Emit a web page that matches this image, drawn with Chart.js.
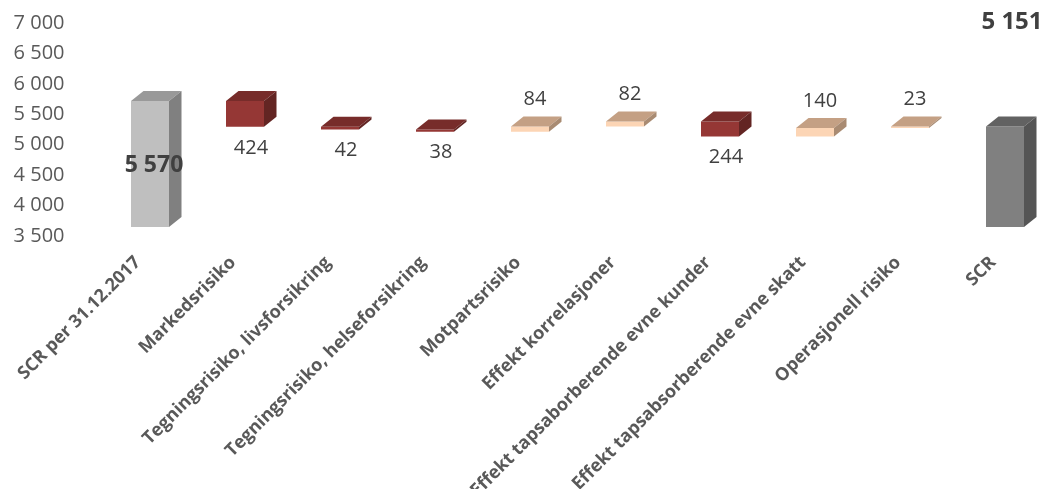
<!DOCTYPE html>
<html><head><meta charset="utf-8">
<script src="https://cdn.jsdelivr.net/npm/chart.js@4"></script>
<style>
html,body{margin:0;padding:0;background:#fff;overflow:hidden;width:1048px;height:489px}
#wrap{position:absolute;left:0;top:0;width:1060px;height:489px}
</style>
</head><body><div id="wrap"><canvas id="c" width="1060" height="489"></canvas></div>
<script>
// ---- data ----
const categories = ['SCR per 31.12.2017','Markedsrisiko','Tegningsrisiko, livsforsikring','Tegningsrisiko, helseforsikring','Motpartsrisiko','Effekt korrelasjoner','Effekt tapsaborberende evne kunder','Effekt tapsabsorberende evne skatt','Operasjonell risiko','SCR'];
const startValue = 5570;
const changes = [-424, -42, -38, 84, 82, -244, 140, 23];
const endValue = 5151;
const yTicks = [3500, 4000, 4500, 5000, 5500, 6000, 6500, 7000];

// ---- build waterfall ranges ----
const ranges = [], kinds = [], labels = [];
ranges.push([yTicks[0], startValue]); kinds.push('start'); labels.push(startValue);
let run = startValue;
changes.forEach(d => { ranges.push([run, run + d]); kinds.push(d < 0 ? 'down' : 'up'); labels.push(Math.abs(d)); run += d; });
ranges.push([yTicks[0], endValue]); kinds.push('end'); labels.push(endValue);

const fmt = n => String(n).replace(/\B(?=(\d{3})+(?!\d))/g, ' ');

const palette = {
  start: {front:'#BFBFBF', top:'#999999', side:'#808080'},
  down:  {front:'#953735', top:'#772C2A', side:'#632523'},
  up:    {front:'#FCD5B5', top:'#C4A084', side:'#A98B72'},
  end:   {front:'#808080', top:'#626262', side:'#555555'}
};

const DX = 12.5, DY = 10;
const FONT = "'Open Sans', sans-serif";

const threeD = {
  id: 'threeD',
  afterDatasetsDraw(chart) {
    const ctx = chart.ctx;
    const meta = chart.getDatasetMeta(0);
    const yScale = chart.scales.y;
    meta.data.forEach((bar, i) => {
      const p = bar.getProps(['x','y','base','width'], true);
      const l = p.x - p.width/2, r = p.x + p.width/2;
      const t = Math.min(p.y, p.base), b = Math.max(p.y, p.base);
      const c = palette[kinds[i]];
      ctx.save();
      ctx.fillStyle = c.top;
      ctx.beginPath();
      ctx.moveTo(l, t); ctx.lineTo(r, t); ctx.lineTo(r + DX, t - DY); ctx.lineTo(l + DX, t - DY); ctx.closePath(); ctx.fill();
      ctx.fillStyle = c.side;
      ctx.beginPath();
      ctx.moveTo(r, t); ctx.lineTo(r + DX, t - DY); ctx.lineTo(r + DX, b - DY); ctx.lineTo(r, b); ctx.closePath(); ctx.fill();
      ctx.restore();
    });
    ctx.save();
    ctx.textAlign = 'center';
    ctx.textBaseline = 'middle';
    ctx.fillStyle = '#404040';
    meta.data.forEach((bar, i) => {
      const p = bar.getProps(['x','y','base','width'], true);
      const t = Math.min(p.y, p.base), b = Math.max(p.y, p.base);
      const k = kinds[i];
      const txt = fmt(labels[i]);
      if (k === 'start') {
        ctx.font = "bold 23px " + FONT;
        ctx.fillText(txt, p.x + 4, (t + b) / 2 + 1);
      } else if (k === 'end') {
        ctx.font = "bold 24px " + FONT;
        ctx.fillText(txt, p.x + 7, yScale.getPixelForValue(yTicks[yTicks.length-1]) + 8);
      } else if (k === 'down') {
        ctx.font = "20px " + FONT;
        ctx.fillText(txt, p.x + 6, b + 21);
      } else {
        ctx.font = "20px " + FONT;
        ctx.fillText(txt, p.x + 5, t - 27);
      }
    });
    ctx.restore();
  }
};

new Chart(document.getElementById('c'), {
  type: 'bar',
  data: {
    labels: categories,
    datasets: [{
      data: ranges,
      backgroundColor: kinds.map(k => palette[k].front),
      borderWidth: 0,
      barPercentage: 0.4,
      categoryPercentage: 1.0
    }]
  },
  options: {
    responsive: false,
    animation: false,
    devicePixelRatio: 1,
    layout: { padding: { top: 14, right: 7.5, left: 0, bottom: 0 } },
    plugins: { legend: { display: false }, tooltip: { enabled: false } },
    scales: {
      x: {
        grid: { display: false, drawTicks: false },
        border: { display: false },
        ticks: {
          autoSkip: false, maxRotation: 45, minRotation: 45,
          color: '#595959', font: { family: FONT, size: 18, weight: 'bold' },
          padding: 25, labelOffset: -12
        },
        afterFit(s) { s.height = 262; s.paddingLeft = 0; s.paddingRight = 0; }
      },
      y: {
        min: yTicks[0], max: yTicks[yTicks.length-1],
        grid: { display: false, drawTicks: false },
        border: { display: false },
        afterBuildTicks(s) { s.ticks = yTicks.map(v => ({ value: v })); },
        ticks: {
          color: '#595959', font: { family: FONT, size: 20 },
          padding: 38, labelOffset: 9,
          callback: v => fmt(v)
        },
        afterFit(s) { s.width = 102.5; s.paddingTop = 0; s.paddingBottom = 0; }
      }
    }
  },
  plugins: [threeD]
});
</script>
</body></html>
